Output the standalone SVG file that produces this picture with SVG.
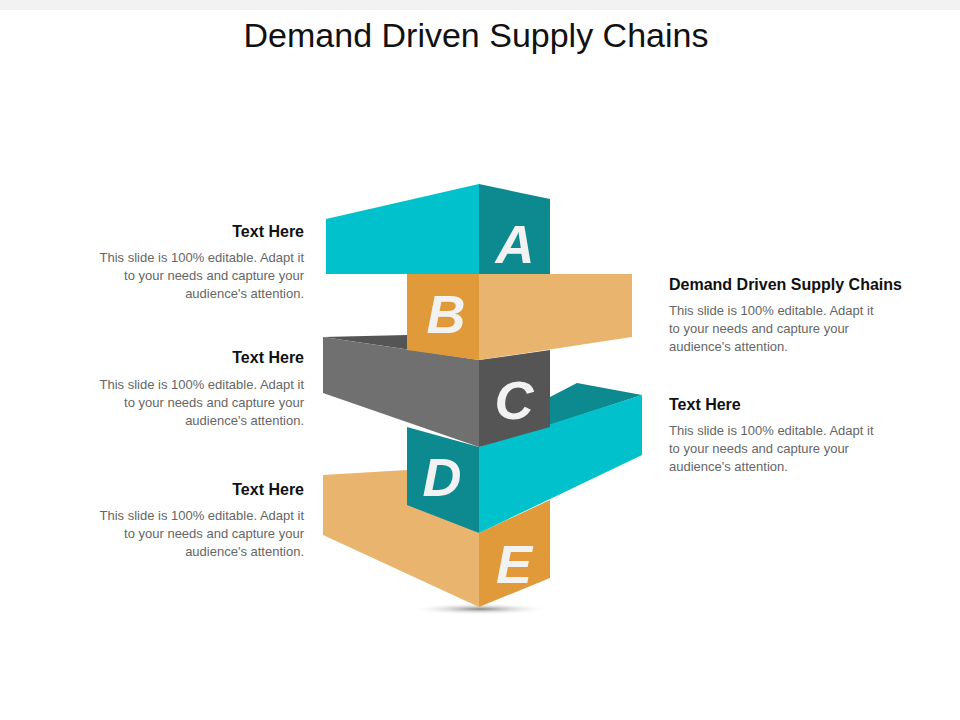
<svg xmlns="http://www.w3.org/2000/svg" width="960" height="720" viewBox="0 0 960 720">
<defs>
<style>
.t{font-family:"Liberation Sans",Arial,sans-serif;font-weight:bold;font-size:16px;fill:#111}
.b{font-family:"Liberation Sans",Arial,sans-serif;font-size:13px;fill:#666}
.L{font-family:"Liberation Sans",Arial,sans-serif;font-weight:bold;font-size:54px;fill:#f2f2f2;text-anchor:middle;font-style:italic}
</style>
<radialGradient id="sh"><stop offset="0" stop-color="#888"/><stop offset="1" stop-color="#fff" stop-opacity="0"/></radialGradient>
</defs>
<rect width="960" height="720" fill="#fff"/>
<rect width="960" height="10" fill="#f2f2f2"/>
<text x="476" y="47" text-anchor="middle" font-family="Liberation Sans,Arial,sans-serif" font-size="34" fill="#111">Demand Driven Supply Chains</text>
<ellipse cx="480" cy="609" rx="70" ry="6" fill="url(#sh)"/>
<g id="E">
<polygon points="323,475 407,470 407,497 479,533 479,607 323,535" fill="#e9b46d"/>
<polygon points="479,533 550,500 550,578 479,607" fill="#e09a3a"/>
<text class="L" x="514" y="583">E</text>
</g>
<g id="D">
<polygon points="407,427 479,447 479,533 407,505" fill="#0d8a8f"/>
<polygon points="550,397 577,383 642,395 550,425" fill="#0d8a8f"/>
<polygon points="479,447 642,395 642,455 479,533" fill="#00c1cc"/>
<text class="L" x="442" y="496" font-style="normal">D</text>
</g>
<g id="C">
<polygon points="323,337 407,335 407,350 479,360" fill="#555"/>
<polygon points="323,337 479,360 479,447 323,393" fill="#707070"/>
<polygon points="479,360 550,350 550,427 479,447" fill="#555"/>
<text class="L" x="514" y="419">C</text>
</g>
<g id="B">
<polygon points="407,274 479,274 479,360 407,350" fill="#e09a3a"/>
<polygon points="479,274 632,274 632,337 479,360" fill="#e9b46d"/>
<text class="L" x="446" y="333" font-style="normal">B</text>
</g>
<g id="A">
<polygon points="326,219 479,184 479,274 326,274" fill="#00c1cc"/>
<polygon points="479,184 550,199 550,274 479,274" fill="#0d8a8f"/>
<text class="L" x="515" y="263">A</text>
</g>
<g id="t1" text-anchor="end">
<text class="t" x="304" y="237">Text Here</text>
<text class="b" x="304" y="262">This slide is 100% editable. Adapt it</text>
<text class="b" x="304" y="280">to your needs and capture your</text>
<text class="b" x="304" y="298">audience's attention.</text>
</g>
<g id="t2" text-anchor="end">
<text class="t" x="304" y="363">Text Here</text>
<text class="b" x="304" y="389">This slide is 100% editable. Adapt it</text>
<text class="b" x="304" y="407">to your needs and capture your</text>
<text class="b" x="304" y="425">audience's attention.</text>
</g>
<g id="t3" text-anchor="end">
<text class="t" x="304" y="495">Text Here</text>
<text class="b" x="304" y="520">This slide is 100% editable. Adapt it</text>
<text class="b" x="304" y="538">to your needs and capture your</text>
<text class="b" x="304" y="556">audience's attention.</text>
</g>
<g id="t4">
<text class="t" x="669" y="290">Demand Driven Supply Chains</text>
<text class="b" x="669" y="315">This slide is 100% editable. Adapt it</text>
<text class="b" x="669" y="333">to your needs and capture your</text>
<text class="b" x="669" y="351">audience's attention.</text>
</g>
<g id="t5">
<text class="t" x="669" y="410">Text Here</text>
<text class="b" x="669" y="435">This slide is 100% editable. Adapt it</text>
<text class="b" x="669" y="453">to your needs and capture your</text>
<text class="b" x="669" y="471">audience's attention.</text>
</g>
<g id="connectors"/>
</svg>
